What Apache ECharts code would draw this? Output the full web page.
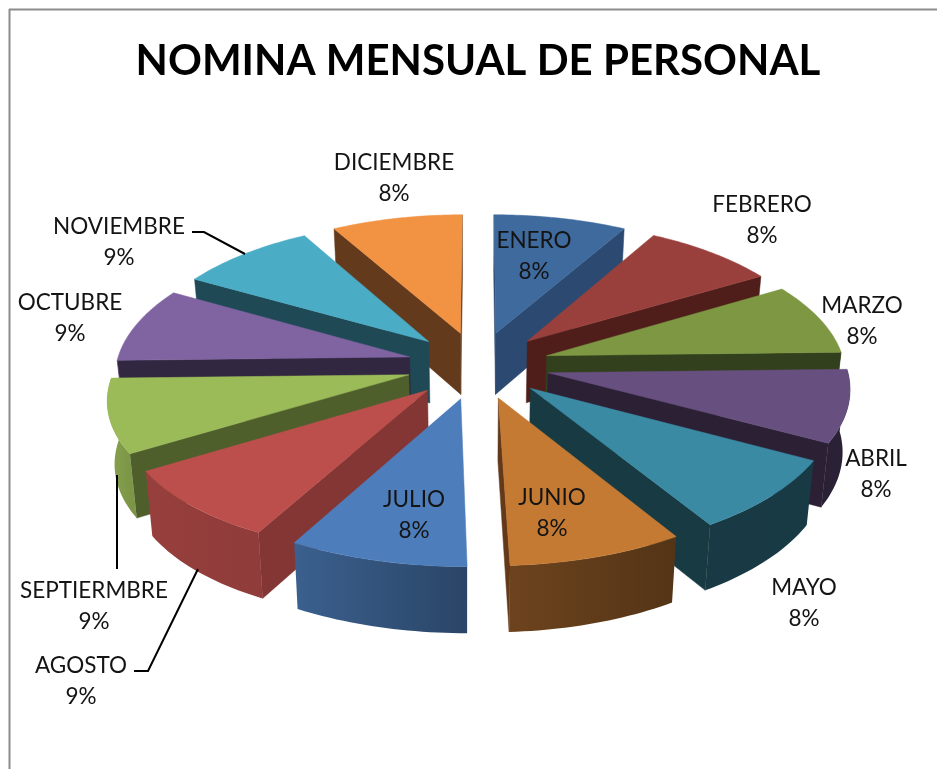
<!DOCTYPE html>
<html>
<head>
<meta charset="utf-8">
<style>html,body{margin:0;padding:0;background:#fff}#c{width:937px;height:769px}</style>
<script src="https://cdn.jsdelivr.net/npm/echarts@6/dist/echarts.min.js"></script>
</head>
<body>
<div id="c"></div>
<script>
const months = ['ENERO','FEBRERO','MARZO','ABRIL','MAYO','JUNIO','JULIO','AGOSTO','SEPTIERMBRE','OCTUBRE','NOVIEMBRE','DICIEMBRE'];
const values = [8.2,8.2,8.2,8.2,8.2,8.2,8.2,8.6,8.6,8.6,8.6,8.2];
const topColors = ['#3F6A9D','#9A403C','#7D9743','#674F80','#3A8AA4','#C57A34','#4D7EBB','#BC4F4C','#9BBB59','#8064A2','#4BACC6','#F29343'];
const wallColors = ['#2C4A71','#4F1E1B','#33401D','#2C2035','#183A42','#63391A','#2E4A70','#843635','#4F5F2C','#322740','#1F4955','#643A1C'];
const labelCenters = [[534,256],[762,220],[862,321],[876,474],[804,603],[552,513],[414,515],[81,681],[94,606],[70,318],[119,242],[394,178]];

const cx = 478, cy = 365, k = 0.468, D = 2530, R = 298, explode = 72, wallH = 62, leftScale = 0.985;
const total = values.reduce((a, b) => a + b, 0);
let acc = 0;
const slices = values.map(v => {
  const a0 = acc / total * 360; acc += v;
  const a1 = acc / total * 360;
  return {a0, a1, mid: (a0 + a1) / 2};
});
const rad = d => d * Math.PI / 180;
function proj(x, y, z) {
  const f = D / (D - y);
  const sx = x < 0 ? leftScale : 1;
  let X = cx + x * sx * f * (1 - 0.02 * z);
  let Y = cy + k * y * f + z * wallH * (1 + 0.0002 * y);
  if (y > 0) {
    const t = Math.min(1, Math.max(0, -x / 150));
    X -= (0.03 + 0.015 * t) * y;
    Y -= 0.012 * t * y;
  }
  return [X, Y];
}
function pt(s, ang, r, z) {
  const ox = explode * Math.sin(rad(s.mid)), oy = -explode * Math.cos(rad(s.mid));
  return proj(ox + r * Math.sin(rad(ang)), oy - r * Math.cos(rad(ang)), z);
}
function area(p) {
  let a = 0;
  for (let i = 0; i < p.length; i++) {
    const q = p[(i + 1) % p.length];
    a += p[i][0] * q[1] - q[0] * p[i][1];
  }
  return a / 2;
}
const shadeStops = [[0,.42],[147,.42],[177,.55],[206,.76],[237,.8],[268,.86],[360,.86]];
function shade(a) {
  for (let i = 1; i < shadeStops.length; i++) {
    if (a <= shadeStops[i][0]) {
      const [a0, s0] = shadeStops[i - 1], [a1, s1] = shadeStops[i];
      return s0 + (s1 - s0) * (a - a0) / (a1 - a0);
    }
  }
  return .86;
}
function mul(hex, s) {
  const n = parseInt(hex.slice(1), 16);
  return 'rgb(' + [(n >> 16) & 255, (n >> 8) & 255, n & 255].map(c => Math.round(c * s)).join(',') + ')';
}
const order = slices.map((s, i) => i).sort((a, b) =>
  (-Math.cos(rad(slices[a].mid))) - (-Math.cos(rad(slices[b].mid))));

function renderSlice(params, api) {
  const i = params.dataIndex, s = slices[i];
  const z2 = order.indexOf(i) * 10 + 1;
  const children = [];
  const poly = (points, fill, off) => children.push({
    type: 'polygon', z2: z2 + off, shape: {points},
    style: {fill, stroke: typeof fill === 'string' ? fill : null, lineWidth: 0.5}
  });
  // radial walls: keep the one that faces the viewer
  [[s.a0, -1], [s.a1, 1]].forEach(([a, dir]) => {
    const q = [pt(s, a, 0, 0), pt(s, a, R, 0), pt(s, a, R, 1), pt(s, a, 0, 1)];
    if (area(q) * dir > 0) poly(q, wallColors[i], 0);
  });
  // outer rim, front half only
  const from = Math.max(s.a0, 88), to = Math.min(s.a1, 269);
  if (to > from) {
    const upper = [], lower = [];
    for (let n = 0; n <= 24; n++) {
      const a = from + (to - from) * n / 24;
      upper.push(pt(s, a, R, 0));
      lower.unshift(pt(s, a, R, 1));
    }
    const p0 = pt(s, from, R, 0), p1 = pt(s, to, R, 0);
    poly(upper.concat(lower), {
      type: 'linear', global: true, x: p0[0], y: 0, x2: p1[0], y2: 0,
      colorStops: [{offset: 0, color: mul(topColors[i], shade(from))},
                   {offset: 1, color: mul(topColors[i], shade(to))}]
    }, 1);
  }
  // top face
  const top = [pt(s, s.a0, 0, 0)];
  for (let n = 0; n <= 30; n++) top.push(pt(s, s.a0 + (s.a1 - s.a0) * n / 30, R, 0));
  poly(top, topColors[i], 2);
  // label
  const pct = Math.round(api.value(0) / total * 100);
  children.push({
    type: 'text', z2: 500,
    style: {
      x: labelCenters[i][0], y: labelCenters[i][1],
      text: months[i] + '\n' + pct + '%',
      fill: '#141414', font: '22.5px Lato', lineHeight: 31,
      align: 'center', verticalAlign: 'middle'
    }
  });
  return {type: 'group', children};
}

const leader = pts => ({
  type: 'polyline', z: 50, shape: {points: pts},
  style: {stroke: '#000', lineWidth: 2, fill: null}
});
const chart = echarts.init(document.getElementById('c'), null, {renderer: 'canvas'});
chart.setOption({
  animation: false,
  backgroundColor: '#fff',
  title: {
    text: 'NOMINA MENSUAL DE PERSONAL',
    left: 473, top: 35, textAlign: 'center',
    textStyle: {fontFamily: 'Lato', fontWeight: 'bold', fontSize: 42, color: '#000'}
  },
  graphic: [
    {type: 'line', z: 50, shape: {x1: 9, y1: 9.5, x2: 937, y2: 9.5}, style: {stroke: '#8C8C8C', lineWidth: 2}},
    {type: 'line', z: 50, shape: {x1: 9.5, y1: 9, x2: 9.5, y2: 769}, style: {stroke: '#8C8C8C', lineWidth: 2}},
    leader([[192, 232], [204, 232], [245, 254]]),
    leader([[117, 475], [117, 569]]),
    leader([[134, 671], [148, 671], [198, 569]])
  ],
  series: [{
    type: 'custom',
    coordinateSystem: 'none',
    silent: true,
    renderItem: renderSlice,
    data: values.map(v => [v])
  }]
});
</script>
</body>
</html>
